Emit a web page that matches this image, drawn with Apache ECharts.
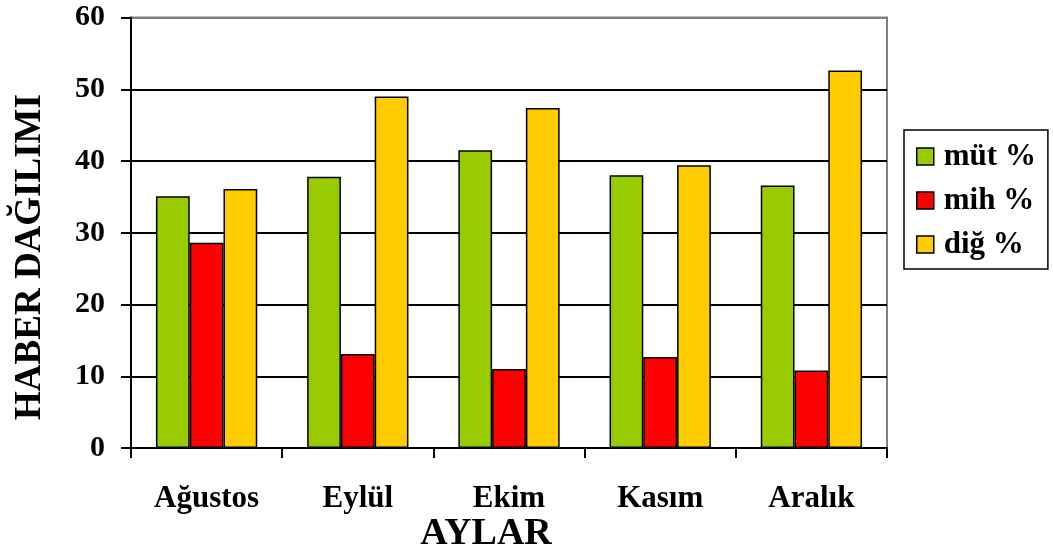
<!DOCTYPE html>
<html>
<head>
<meta charset="utf-8">
<script src="https://cdn.jsdelivr.net/npm/echarts@6/dist/echarts.min.js"></script>
<style>
html,body{margin:0;padding:0;background:#fff;}
#chart{width:1053px;height:558px;}
</style>
</head>
<body>
<div id="chart"></div>
<script>
const categories = ['Ağustos', 'Eylül', 'Ekim', 'Kasım', 'Aralık'];
const seriesNames = ['müt %', 'mih %', 'diğ %'];
const mutValues = [35.1, 37.8, 41.5, 38.0, 36.6];
const mihValues = [28.6, 13.1, 11.0, 12.7, 10.8];
const digValues = [36.1, 49.0, 47.4, 39.4, 52.6];
const yTicks = [0, 10, 20, 30, 40, 50, 60];
const xTitle = 'AYLAR';
const yTitle = 'HABER DAĞILIMI';

const colors = ['#99CC00', '#FF0000', '#FFCC00'];
const font = '"Liberation Serif", "Times New Roman", serif';
const chart = echarts.init(document.getElementById('chart'));

const seriesData = [mutValues, mihValues, digValues];
chart.setOption({
  animation: false,
  textStyle: { fontFamily: font },
  grid: {
    left: 131, right: 166, top: 17.5, bottom: 110,
    show: true, borderColor: '#808080', borderWidth: 2, backgroundColor: 'transparent'
  },
  legend: {
    orient: 'vertical',
    left: 904, top: 130,
    padding: [11, 12, 9, 12],
    itemGap: 13,
    itemWidth: 17, itemHeight: 17,
    icon: 'rect',
    borderColor: '#000', borderWidth: 1.5,
    itemStyle: { borderColor: '#000', borderWidth: 1.5 },
    textStyle: { fontFamily: font, fontWeight: 'bold', fontSize: 31, color: '#000', padding: [0, 0, 0, 5] },
    data: seriesNames
  },
  xAxis: {
    type: 'category',
    data: categories,
    axisLine: { lineStyle: { color: '#000', width: 2 } },
    axisTick: { show: true, length: 10, lineStyle: { color: '#000', width: 2 } },
    axisLabel: { margin: 35, fontFamily: font, fontWeight: 'bold', fontSize: 31, color: '#000' }
  },
  yAxis: {
    type: 'value',
    min: yTicks[0], max: yTicks[yTicks.length - 1], interval: 10,
    axisLine: { show: true, lineStyle: { color: '#000', width: 2 } },
    axisTick: { show: true, length: 10, lineStyle: { color: '#000', width: 2 } },
    axisLabel: { margin: 26, fontFamily: font, fontWeight: 'bold', fontSize: 30, color: '#000' },
    splitLine: { show: true, lineStyle: { color: ['#000','#000','#000','#000','#000','#000','#808080'], width: 2 } }
  },
  graphic: [
    { type: 'text', x: 486, y: 534, style: { text: xTitle, font: 'bold 38px ' + font, fill: '#000', textAlign: 'center', textVerticalAlign: 'middle' } },
    { type: 'text', x: 30, y: 257, rotation: Math.PI / 2, style: { text: yTitle, font: 'bold 37px ' + font, fill: '#000', textAlign: 'center', textVerticalAlign: 'middle' } }
  ],
  series: seriesNames.map((n, i) => ({
    name: n,
    type: 'bar',
    data: seriesData[i],
    barGap: '0%',
    barCategoryGap: '33%',
    itemStyle: { color: colors[i], borderColor: '#000', borderWidth: 1.5 }
  }))
});
</script>
</body>
</html>
